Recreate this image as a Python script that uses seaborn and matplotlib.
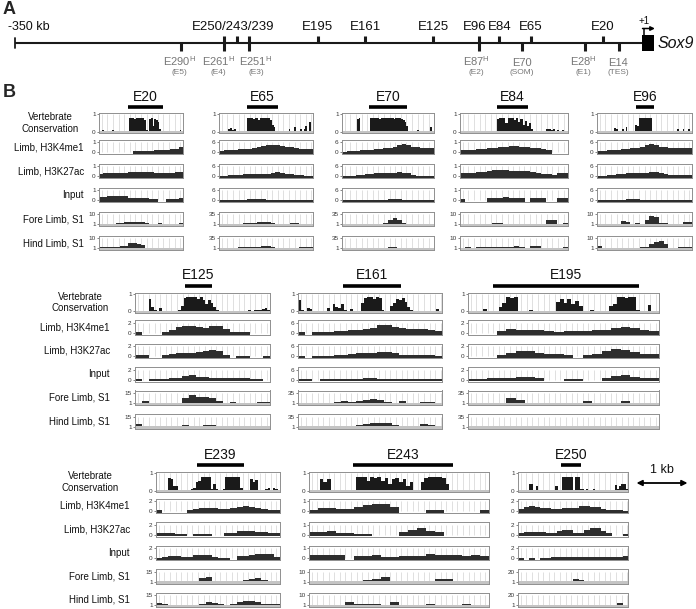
import numpy as np
import matplotlib
matplotlib.use("Agg")
import matplotlib.pyplot as plt
from matplotlib.patches import Rectangle
import seaborn as sns

sns.set_theme(style="white")
plt.rcParams['font.family'] = ['Liberation Sans', 'DejaVu Sans']
plt.rcParams['mathtext.fontset'] = 'custom'
plt.rcParams['mathtext.rm'] = 'Liberation Sans'
plt.rcParams['mathtext.it'] = 'Liberation Sans:italic'

G = None  # no data

# ---------------- Panel A data (kb upstream of Sox9) ----------------
UPPER_KB = [233.3, 226.1, 219.4, 180.9, 154.6, 116.7, 91.0, 79.8, 62.0, 21.8]
UPPER_LABELS = ["E250/243/239", "E195", "E161", "E125", "E96", "E84", "E65", "E20"]
UPPER_LABEL_KB = [228.3, 180.9, 154.6, 116.7, 93.4, 79.6, 62.0, 21.8]
LOWER_NAMES = ["E290", "E261", "E251", "E87", "E70", "E28", "E14"]
LOWER_KB = [257.3, 233.3, 219.4, 91.0, 67.0, 31.8, 12.8]
LOWER_LABEL_KB = [258.2, 236.3, 215.5, 92.4, 67.0, 32.7, 13.4]
LOWER_SUP = ["H", "H", "H", "H", "", "H", ""]
LOWER_SUB = ["(E5)", "(E4)", "(E3)", "(E2)", "(SOM)", "(E1)", "(TES)"]
LOCUS_START_KB = -350

# ---------------- Panel B data ----------------
TRACK_NAMES = ["Vertebrate\nConservation", "Limb, H3K4me1", "Limb, H3K27ac",
               "Input", "Fore Limb, S1", "Hind Limb, S1"]
ROW1 = ["E20", "E65", "E70", "E84", "E96"]
ROW2 = ["E125", "E161", "E195"]
ROW3 = ["E239", "E243", "E250"]
WINDOW_KB = {"E20": 1.68, "E65": 1.88, "E70": 1.84, "E84": 2.16, "E96": 1.9,
             "E125": 2.7, "E161": 2.88, "E195": 3.82,
             "E239": 2.48, "E243": 3.6, "E250": 2.2}
ELEMENT_KB = {"E20": (0.58, 1.28), "E65": (0.56, 1.18), "E70": (0.54, 1.30),
              "E84": (0.74, 1.36), "E96": (0.78, 1.14), "E125": (1.0, 1.54),
              "E161": (0.9, 2.06), "E195": (0.5, 3.42), "E239": (0.82, 1.76),
              "E243": (0.88, 2.88), "E250": (0.86, 1.26)}
TRACK_TOP = {"E20": [1, 1, 1, 1, 10, 10], "E65": [1, 6, 6, 6, 35, 35],
             "E70": [1, 6, 6, 6, 35, 35], "E84": [1, 1, 1, 1, 10, 10],
             "E96": [1, 6, 6, 6, 10, 10], "E125": [1, 2, 2, 2, 15, 15],
             "E161": [1, 6, 6, 6, 35, 35], "E195": [1, 2, 2, 2, 35, 35],
             "E239": [1, 2, 2, 2, 15, 15], "E243": [1, 1, 1, 1, 10, 10],
             "E250": [1, 2, 2, 2, 20, 20]}
TRACK_BOTTOM = [0, 0, 0, 0, 1, 1]

# E20
E20_cons = [0.03,0.02,0.08,0.02,0.03,0.02,0.02,0.03,0.12,0.02, 0.02,0.02,0.03,0.05,0.02,0.02,0.02,0.03,1.0,0.95,
            1.0,0.9,1.0,1.0,0.95,1.0,1.0,0.85,0.1,0.05, 0.9,0.95,0.4,0.9,0.85,0.7,0.15,0.02,0.02,0.03,
            0.02,0.02,0.06,0.02,0.02,0.02,0.02,0.02,0.1,0.02]
E20_k4me1 = [G,G,G,G,G,G,G,G,0.15,0.15,0.16,0.17,0.17,0.18,0.2,0.22,0.25,0.3,0.35,0.5]
E20_k27ac = [0.25,0.3,0.3,0.3,0.35,0.35,0.35,0.4,0.45,0.45,0.45,0.4,0.4,0.35,0.3,0.3,0.3,0.35,0.4,0.4]
E20_input = [0.3,0.35,0.4,0.4,0.4,0.4,0.4,0.2,0.2,0.2,0.2,0.2,0.12,0.12,G,G,0.15,0.15,0.15,0.25]
E20_fore = [G,G,G,1.5,2.5,2.5,3.0,3.2,3.5,3.3,3.0,2.5,G,G,2.2,G,G,G,G,2.0]
E20_hind = [2.0,2.0,2.3,2.0,2.5,3.0,3.0,5.5,6.0,5.0,4.0,G,1.3,G,1.3,1.3,G,G,G,G]
# E65
E65_cons = [0.02,0.02,0.03,0.02,0.02,0.15,0.25,0.1,0.2,0.03, 0.02,0.03,0.02,0.02,0.02,0.95,1.0,1.0,0.9,1.0,
            1.0,0.85,1.0,1.0,0.95,1.0,1.0,0.8,0.5,0.3, 0.05,0.02,0.02,0.02,0.02,0.02,0.02,0.2,0.03,0.05,
            0.3,0.02,0.02,0.15,0.02,0.2,0.4,0.02,0.7,0.05]
E65_k4me1 = [1.0,1.2,1.4,1.6,1.8,2.0,2.2,2.5,3.0,3.6,4.2,4.5,4.5,4.0,3.5,3.0,2.5,2.2,2.2,2.2]
E65_k27ac = [0.2,0.3,0.5,0.8,1.0,1.2,1.4,1.4,1.4,1.5,1.5,2.0,2.4,2.2,1.6,1.2,0.5,0.5,0.4,0.4]
E65_input = [0.2,0.2,0.3,0.3,0.3,0.4,0.5,0.8,0.8,0.6,0.4,0.3,0.3,0.3,0.2,0.3,0.3,0.2,0.2,0.2]
E65_fore = [2,2,2.5,3,3.5,4,5,6,8,10,9,7,G,G,G,5,5.5,G,G,3]
E65_hind = [G,G,2,3,4,5,6,7,7,8,8,7,G,1.5,G,1.5,G,4,6,6]
# E70
E70_cons = [0.02,0.02,0.02,0.02,0.02,0.02,0.02,0.02,0.9,0.95, 0.03,0.02,0.02,0.02,0.03,1.0,1.0,0.95,1.0,1.0,
            0.9,1.0,1.0,1.0,0.95,1.0,1.0,1.0,0.9,1.0, 0.95,1.0,0.9,0.8,0.7,0.4,0.05,0.02,0.02,0.02,
            0.02,0.12,0.02,0.02,0.02,0.02,0.02,0.02,0.3,0.02]
E70_k4me1 = [0.3,0.5,0.7,0.9,1.1,1.3,1.5,1.7,2.0,2.3,2.8,3.5,4.5,5.0,4.5,3.5,3.0,2.8,2.6,2.6]
E70_k27ac = [0.1,0.2,0.3,0.5,0.8,1.2,1.6,1.8,1.8,1.8,1.8,2.0,2.4,2.2,1.8,1.0,0.4,0.4,0.4,0.4]
E70_input = [0.2,0.2,0.2,0.2,0.3,0.3,0.3,0.3,0.4,0.4,0.6,0.7,0.7,0.4,0.3,0.3,0.2,0.2,0.3,0.2]
E70_fore = [3,3,G,G,G,G,1.5,2,2,4,14,22,16,5,2,G,2,2,2,2]
E70_hind = [2,3,3,G,3.5,3.5,G,G,G,3,4,4,G,G,2,2,G,G,2,G]
# E84
E84_cons = [0.02,0.02,0.02,0.02,0.02,0.02,0.03,0.02,0.02,0.02, 0.02,0.02,0.02,0.02,0.02,0.02,0.05,0.9,1.0,1.0,
            0.95,0.6,1.0,0.95,1.0,0.85,1.0,0.7,0.9,0.5, 0.75,0.4,0.6,0.15,0.05,0.02,0.02,0.02,0.02,0.02,
            0.15,0.2,0.1,0.15,0.05,0.1,0.02,0.08,0.02,0.02]
E84_k4me1 = [0.2,0.22,0.25,0.3,0.35,0.4,0.45,0.5,0.55,0.6,0.6,0.55,0.5,0.45,0.4,0.3,0.25,G,G,G]
E84_k27ac = [0.3,0.3,0.35,0.4,0.45,0.5,0.6,0.6,0.6,0.55,0.5,0.5,0.5,0.45,0.3,0.25,0.2,0.15,0.3,0.3]
E84_input = [0.15,G,G,G,G,0.2,0.2,0.25,0.3,0.25,0.2,0.2,G,0.25,0.25,0.25,G,G,0.2,0.2]
E84_fore = [G,G,G,G,G,1.5,2.5,2.5,G,G,1.5,G,G,G,1.5,G,5,5,G,2]
E84_hind = [1.5,1.8,G,1.8,1.8,2,2.2,2,2.5,2.5,3,2.5,G,3.5,3.5,G,G,G,G,2]
# E96
E96_cons = [0.02,0.02,0.02,0.02,0.02,0.02,0.02,0.02,0.02,0.25, 0.15,0.02,0.02,0.2,0.05,0.3,0.02,0.02,0.02,0.02,
            0.5,0.4,0.95,1.0,1.0,1.0,1.0,1.0,1.0,0.05, 0.02,0.02,0.02,0.05,0.02,0.06,0.02,0.02,0.02,0.02,
            0.02,0.02,0.15,0.02,0.02,0.2,0.02,0.02,0.15,0.02]
E96_k4me1 = [0.8,1.0,1.2,1.4,1.6,1.8,2.0,2.4,2.8,3.5,4.5,4.8,4.5,3.5,3.0,2.6,2.4,2.4,2.4,2.4]
E96_k27ac = [0.3,0.4,0.6,0.9,1.3,1.5,1.8,2.0,2.2,2.2,2.2,2.6,2.4,1.8,1.4,0.8,0.7,0.7,0.6,0.6]
E96_input = [0.2,0.2,0.25,0.3,0.3,0.4,0.6,0.7,0.5,0.4,0.3,0.3,0.3,0.2,0.3,0.2,0.2,0.3,0.2,0.2]
E96_fore = [G,G,G,G,G,4,3.5,G,1.8,G,5,9,8,1.8,1.8,G,G,G,3,3]
E96_hind = [3,G,G,G,1.5,G,G,1.5,G,1.8,2,5,7,7.5,5,G,G,1.8,1.8,2.5]
# E125
E125_cons = [0.02,0.02,0.02,0.02,0.02,0.85,0.3,0.05,0.02,0.25, 0.02,0.02,0.02,0.02,0.02,0.02,0.05,0.4,0.95,1.0,
             1.0,1.0,1.0,0.9,1.0,0.8,0.5,0.8,0.6,0.3, 0.05,0.02,0.02,0.02,0.02,0.02,0.02,0.02,0.02,0.02,
             0.02,0.02,0.05,0.02,0.08,0.05,0.1,0.15,0.25,0.1]
E125_k4me1 = [0.15,G,G,G,0.1,0.5,1.2,1.4,1.4,1.2,1.0,1.3,1.3,0.8,0.15,0.15,0.15,G,G,G]
E125_k27ac = [0.2,0.2,G,G,0.3,0.4,0.6,0.7,0.6,0.8,1.0,1.2,1.0,0.3,G,0.1,0.1,G,G,0.1]
E125_input = [0.1,G,0.1,0.15,0.15,0.3,0.4,0.8,0.9,0.6,0.5,0.4,0.3,0.3,0.25,0.25,0.25,0.2,0.2,G]
E125_fore = [G,4.3,G,G,G,G,1.5,8,12,10,9,8,4,G,2,G,G,G,2,2]
E125_hind = [5,2,G,1.5,1.5,G,2.5,4,2,G,4,3,1.5,2,1.8,G,G,G,2.5,G]
# E161
E161_cons = [0.8,0.05,0.02,0.25,0.15,0.02,0.02,0.02,0.02,0.02, 0.2,0.02,0.5,0.3,0.2,0.5,0.1,0.02,0.15,0.02,
             0.02,0.02,0.6,0.95,1.0,1.0,0.9,1.0,0.95,0.1, 0.02,0.02,0.4,0.6,0.9,0.8,0.95,0.7,0.3,0.05,
             0.02,0.02,0.02,0.02,0.02,0.02,0.02,0.02,0.15,0.02]
E161_k4me1 = [0.2,G,0.2,0.4,0.6,0.8,1.0,1.3,1.6,2.0,3.0,4.5,4.5,3.5,2.6,2.4,2.4,2.2,1.5,0.8]
E161_k27ac = [0.1,G,0.2,0.2,0.2,0.8,0.9,1.5,1.8,1.8,1.6,2.2,2.3,1.6,0.8,0.5,0.5,0.5,0.4,0.3]
E161_input = [0.3,0.2,G,0.2,0.2,0.3,0.3,0.3,0.5,0.8,0.8,0.5,0.4,0.4,0.3,0.3,0.3,0.2,0.2,0.2]
E161_fore = [2,2,G,2.5,3,6,8,4,8,11,16,10,6,3,8,3,2.5,6,5,2.5]
E161_hind = [1.5,G,G,G,1.5,2,2,4,7,10,12,13,12,7,2,2,2,9,8,G]
# E195
E195_cons = [0.02,0.02,0.02,0.02,0.15,0.02,0.02,0.02,0.3,0.6, 1.0,0.95,1.0,0.03,0.02,0.02,0.08,0.02,0.02,0.02,
             0.02,0.02,0.02,0.7,0.9,0.6,0.85,0.5,0.75,0.4, 0.03,0.02,0.08,0.02,0.02,0.02,0.02,0.4,0.55,1.0,
             1.0,0.95,1.0,1.0,0.05,0.02,0.02,0.45,0.02,0.02]
E195_k4me1 = [G,G,G,0.35,0.7,0.6,0.5,0.5,0.25,0.15,0.4,0.4,0.4,0.45,0.6,0.9,1.2,1.0,0.6,0.3]
E195_k27ac = [G,G,G,0.3,0.6,1.0,1.0,0.6,0.4,0.4,0.3,G,0.3,0.5,1.0,1.5,1.2,0.8,0.5,0.4]
E195_input = [0.2,0.2,0.3,0.3,0.3,0.5,0.5,0.3,G,G,0.15,0.15,G,G,0.4,0.7,0.9,0.6,0.3,0.3]
E195_fore = [G,G,1.5,1.5,20,12,2,G,2,2,G,G,7,G,1.5,2,9,3,G,1.5]
E195_hind = [1.5,G,1.5,1.5,2,3,4,3,2,2,G,1.5,1.5,G,G,2,2.5,2.5,G,1.5]
# E239
E239_cons = [0.02,0.02,0.02,0.02,0.02,0.9,0.85,0.3,0.35,0.02, 0.02,0.02,0.02,0.02,0.1,0.15,0.6,0.7,1.0,1.0,
             0.95,1.0,0.1,0.5,0.08,0.05,0.05,0.1,1.0,1.0, 0.95,1.0,1.0,1.0,0.2,0.02,0.02,0.02,0.8,0.6,
             0.75,0.05,0.02,0.05,0.1,0.15,0.05,0.2,0.1,0.02]
E239_k4me1 = [0.2,G,G,G,G,0.3,0.4,0.6,0.6,0.55,0.5,0.5,0.6,0.9,0.95,0.8,0.6,0.4,0.3,0.3]
E239_k27ac = [0.3,0.4,0.3,0.2,0.2,G,0.15,0.15,0.15,G,G,0.3,0.4,0.7,0.8,0.7,0.6,0.5,0.4,0.3]
E239_input = [0.1,0.3,0.45,0.45,0.2,0.2,0.55,0.6,0.6,0.15,0.1,0.1,G,0.4,0.45,0.7,0.85,0.9,0.9,0.3]
E239_fore = [G,G,G,1.5,G,G,1.5,6,8,2.5,2,G,G,1.8,3,5,5.5,4,2,G]
E239_hind = [4.5,3,1.8,G,G,G,G,3,5.5,4,2,G,3,5,7,7,5,3,2.5,2]
# E243
E243_cons = [0.02,0.02,0.02,0.8,0.6,0.85,0.02,0.02,0.02,0.02, 0.02,0.02,0.02,1.0,0.95,1.0,0.7,1.0,0.9,1.0,
             0.7,0.9,0.5,0.8,0.9,0.6,0.85,0.3,0.6,0.02, 0.02,0.6,0.9,1.0,1.0,0.95,1.0,0.9,0.5,0.02,
             0.02,0.02,0.02,0.02,0.02,0.02,0.02,0.06,0.03,0.02]
E243_k4me1 = [0.1,0.35,0.35,0.2,0.2,0.4,0.6,0.7,0.7,0.45,G,G,G,0.1,0.1,G,G,G,G,0.1]
E243_k27ac = [0.27,0.3,0.33,0.2,0.15,0.1,0.1,G,G,G,0.25,0.5,0.65,0.4,0.3,G,G,G,G,G]
E243_input = [0.3,0.33,0.33,0.33,G,0.2,0.25,0.27,0.1,0.1,0.23,0.23,0.25,0.4,0.35,0.3,0.3,0.23,0.35,0.2]
E243_fore = [G,G,G,G,1.5,2,2.5,3,5.5,2,G,1.5,1.5,G,3,3.3,1.5,1.5,G,2]
E243_hind = [1.5,G,G,1.5,4,2,2.2,2,G,4,G,1.5,1.5,1.8,G,1.5,G,2,G,1.5]
# E250
E250_cons = [0.02,0.02,0.02,0.02,0.02,0.5,0.45,0.05,0.3,0.02, 0.02,0.02,0.02,0.02,0.02,0.02,0.02,0.3,0.02,0.02,
             1.0,1.0,1.0,1.0,1.0,0.05,1.0,1.0,0.08,0.12, 0.05,0.1,0.02,0.05,0.08,0.02,0.02,0.02,0.02,0.02,
             0.02,0.02,0.05,0.02,0.4,0.1,0.3,0.45,0.45,0.1]
E250_k4me1 = [0.5,0.9,0.95,0.8,0.65,0.55,0.5,0.5,0.6,0.65,0.55,1.0,1.0,0.8,0.8,0.5,0.3,0.25,0.25,0.1]
E250_k27ac = [0.33,0.45,0.55,0.55,0.55,0.33,0.33,0.7,0.9,1.0,0.35,0.35,0.9,1.3,1.3,0.7,0.3,G,G,0.1]
E250_input = [0.1,G,0.1,G,0.1,0.1,0.15,0.2,0.2,0.3,0.3,0.3,0.3,0.2,0.2,0.2,0.15,0.15,0.3,0.35]
E250_fore = [G,G,1.5,1.5,G,1.5,1.5,G,G,3,6,4,G,1.5,2.5,2.5,G,1.5,1.5,G]
E250_hind = [1.5,1.5,G,G,1.2,G,1.2,G,1.2,G,G,1.2,G,1.5,1.5,G,1.5,1.5,6,2]

TRACKS = {
    "E20": [E20_cons, E20_k4me1, E20_k27ac, E20_input, E20_fore, E20_hind],
    "E65": [E65_cons, E65_k4me1, E65_k27ac, E65_input, E65_fore, E65_hind],
    "E70": [E70_cons, E70_k4me1, E70_k27ac, E70_input, E70_fore, E70_hind],
    "E84": [E84_cons, E84_k4me1, E84_k27ac, E84_input, E84_fore, E84_hind],
    "E96": [E96_cons, E96_k4me1, E96_k27ac, E96_input, E96_fore, E96_hind],
    "E125": [E125_cons, E125_k4me1, E125_k27ac, E125_input, E125_fore, E125_hind],
    "E161": [E161_cons, E161_k4me1, E161_k27ac, E161_input, E161_fore, E161_hind],
    "E195": [E195_cons, E195_k4me1, E195_k27ac, E195_input, E195_fore, E195_hind],
    "E239": [E239_cons, E239_k4me1, E239_k27ac, E239_input, E239_fore, E239_hind],
    "E243": [E243_cons, E243_k4me1, E243_k27ac, E243_input, E243_fore, E243_hind],
    "E250": [E250_cons, E250_k4me1, E250_k27ac, E250_input, E250_fore, E250_hind],
}

# ---------------- layout (pixels) ----------------
W, H = 696, 609
PX_PER_KB = 50.0
STRIPE_KB = 0.112
ROW_LAYOUT = [
    # regions, box lefts, header y, bar y, cons top, cons h, track top, track step, track h, label right, cons label x
    (ROW1, [99, 219, 342, 460, 597], 97, 107.5, 113, 20, 140, 24.0, 14, 84, 50),
    (ROW2, [135, 298, 468], 275, 286, 293, 19.5, 320, 23.5, 14.5, 110, 80),
    (ROW3, [156, 309, 518], 455, 464.5, 472, 20, 498.5, 23.5, 14.5, 130, 90),
]
FILL = "#2e2e2e"
CONS_FILL = "#1a1a1a"
STRIPE = "#d3d3d3"
BASE_GRAY = "#c4c4c4"
SPINE = "#8f8f8f"
LOWER_GRAY = "#777777"

fig = plt.figure(figsize=(W / 100, H / 100), dpi=100)


def px_axes(x, y, w, h):
    return fig.add_axes([x / W, 1 - (y + h) / H, w / W, h / H])


def ftext(x, y, s, **kw):
    fig.text(x / W, 1 - y / H, s, **kw)


def draw_steps(ax, edges, vals, base, color):
    vals = np.asarray(vals, dtype=float)
    ok = ~np.isnan(vals)
    n = len(vals)
    i = 0
    while i < n:
        if ok[i]:
            j = i
            while j < n and ok[j]:
                j += 1
            xs = edges[i:j + 1]
            ys = np.append(vals[i:j], vals[j - 1])
            ax.fill_between(xs, ys, base, step="post", color=color, lw=0)
            i = j
        else:
            i += 1


# ---------------- Panel A ----------------
axA = px_axes(0, 0, W, 85)
kb_per_px = 350.0 / 627.0
axA.set_xlim(LOCUS_START_KB - 15 * kb_per_px, LOCUS_START_KB + (W - 15) * kb_per_px)
axA.set_ylim(85, 0)
axA.axis("off")
axA.plot([LOCUS_START_KB, 0], [42.5, 42.5], color="#1a1a1a", lw=1.5, solid_capstyle="butt")
axA.plot([LOCUS_START_KB, LOCUS_START_KB], [38, 47.5], color="#1a1a1a", lw=1.3)
for kb in UPPER_KB:
    axA.plot([-kb, -kb], [35.5, 42.5], color="#1a1a1a", lw=2.2, solid_capstyle="butt")
for kb in LOWER_KB:
    axA.plot([-kb, -kb], [42.5, 51], color="#1a1a1a", lw=2.2, solid_capstyle="butt")
axA.text(LOCUS_START_KB - 7 * kb_per_px, 27, "-350 kb", fontsize=9, ha="left", va="center", color="#111")
for lab, kb in zip(UPPER_LABELS, UPPER_LABEL_KB):
    axA.text(-kb, 27, lab, fontsize=9.5, ha="center", va="center", color="#111")
for name, kb, sup, sub in zip(LOWER_NAMES, LOWER_LABEL_KB, LOWER_SUP, LOWER_SUB):
    s = name + (r"$^{\mathrm{%s}}$" % sup if sup else "")
    axA.text(-kb, 66, s, fontsize=8, ha="center", va="baseline", color=LOWER_GRAY)
    axA.text(-kb, 74.5, sub, fontsize=6, ha="center", va="baseline", color=LOWER_GRAY)
axA.add_patch(Rectangle((0, 35), 12 * kb_per_px, 15.5, color="black", lw=0))
axA.plot([0.9, 0.9], [35, 28.5], color="black", lw=1.1)
axA.annotate("", xy=(7.2, 28.5), xytext=(0.3, 28.5),
             arrowprops=dict(arrowstyle="-|>", lw=1.1, color="black", mutation_scale=6,
                             shrinkA=0, shrinkB=0))
axA.text(1.0, 21, "+1", fontsize=7, ha="center", va="center", color="#111")
axA.text(8.6, 43, "Sox9", fontsize=11.5, style="italic", ha="left", va="center", color="#111")
ftext(3, 1, "A", fontsize=13, fontweight="bold", ha="left", va="top")
ftext(3, 84, "B", fontsize=13, fontweight="bold", ha="left", va="top")

# ---------------- Panel B ----------------
for (regions, lefts, hy, by, ctop, ch, ttop, tstep, th, lab_r, cons_x) in ROW_LAYOUT:
    # row labels
    ftext(cons_x, ctop + ch / 2, TRACK_NAMES[0], fontsize=7, ha="center", va="center",
          linespacing=1.15, color="#111")
    for k in range(1, 6):
        yc = ttop + tstep * (k - 1) + th / 2
        ftext(lab_r, yc, TRACK_NAMES[k], fontsize=7, ha="right", va="center", color="#111")
    for name, left in zip(regions, lefts):
        L = WINDOW_KB[name]
        wpx = L * PX_PER_KB
        # header with element bar
        axh = px_axes(left, hy - 9, wpx, by - hy + 12)
        axh.set_xlim(0, L)
        axh.set_ylim(by + 3, hy - 9)
        axh.axis("off")
        s0, s1 = ELEMENT_KB[name]
        axh.plot([s0, s1], [by, by], color="black", lw=2.6, solid_capstyle="butt")
        axh.text((s0 + s1) / 2, hy, name, fontsize=10, ha="center", va="center", color="#111")
        stripes = np.arange(STRIPE_KB / 2, L, STRIPE_KB)
        for k in range(6):
            lo, hi = TRACK_BOTTOM[k], TRACK_TOP[name][k]
            r = hi - lo
            if k == 0:
                ax = px_axes(left, ctop, wpx, ch)
                y0, y1 = lo - 0.1 * r, hi + 0.32 * r
            else:
                ax = px_axes(left, ttop + tstep * (k - 1), wpx, th)
                y0, y1 = lo - 0.18 * r, hi + 0.25 * r
            ax.set_xlim(0, L)
            ax.set_ylim(y0, y1)
            ax.set_facecolor("white")
            vals = TRACKS[name][k]
            edges = np.linspace(0, L, len(vals) + 1)
            if k == 0:
                ax.vlines(stripes, lo, hi + 0.25 * r, color=STRIPE, lw=0.5, zorder=1)
                ax.axhspan(y0, lo + 0.03 * r, color=BASE_GRAY, lw=0, zorder=1.5)
                draw_steps(ax, edges, vals, lo, CONS_FILL)
            else:
                ax.vlines(stripes, lo, hi, color=STRIPE, lw=0.5, zorder=1)
                if k >= 4:
                    ax.axhspan(y0, lo + 0.02 * r, color=BASE_GRAY, lw=0, zorder=1.5)
                draw_steps(ax, edges, vals, y0, FILL)
            ax.set_xticks([])
            ax.set_yticks([lo, hi + (0.25 * r if k == 0 else 0)])
            ax.set_yticklabels([str(lo), str(hi)])
            ax.tick_params(axis="y", left=True, length=1.8, width=0.5, color="#555",
                           labelsize=4.6, pad=0.6, labelcolor="#333")
            for sp in ax.spines.values():
                sp.set_color(SPINE)
                sp.set_linewidth(0.7)

# scale bar
axs = px_axes(628, 455, 68, 40)
axs.set_xlim(628, 696)
axs.set_ylim(495, 455)
axs.axis("off")
axs.annotate("", xy=(687.5, 483), xytext=(636.5, 483),
             arrowprops=dict(arrowstyle="<|-|>", lw=1.3, color="black", mutation_scale=8,
                             shrinkA=0, shrinkB=0))
axs.text(662, 470, "1 kb", fontsize=9, ha="center", va="center", color="#111")

fig.savefig("out.png", dpi=100)
